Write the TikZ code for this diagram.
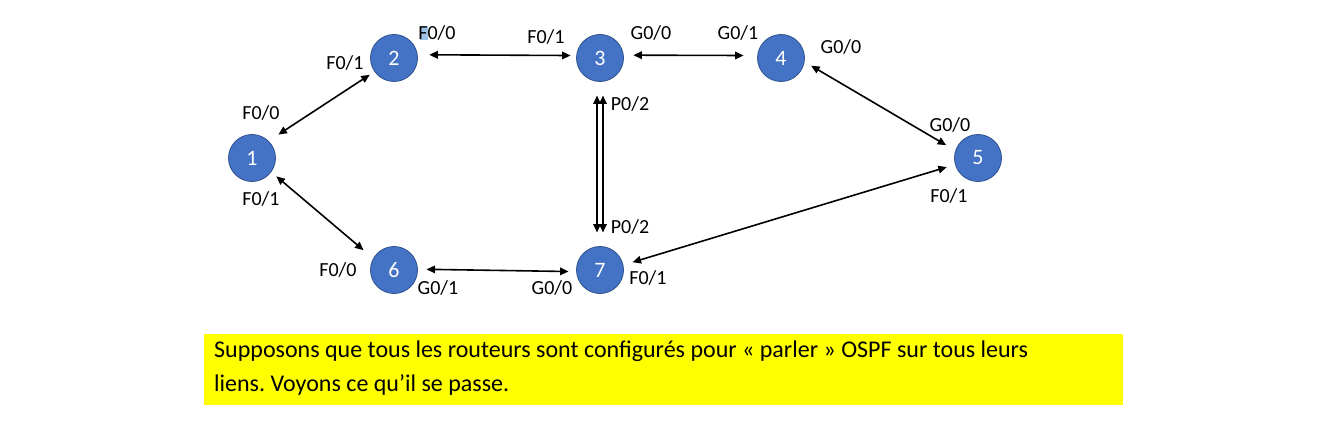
\documentclass[tikz,border=0pt]{standalone}
\usepackage{fontspec}
\setmainfont{Carlito}
\usetikzlibrary{arrows.meta}
\definecolor{nodeblue}{HTML}{4472C4}
\definecolor{nodeedge}{HTML}{2F528F}
\definecolor{hl}{HTML}{9DC3E6}
\definecolor{noteyellow}{HTML}{FFFF00}
\frenchspacing
\begin{document}
\begin{tikzpicture}[x=1pt,y=-1pt,
  router/.style={circle,fill=nodeblue,draw=nodeedge,line width=0.8pt,minimum size=47pt,inner sep=0pt,outer sep=0pt,text=white,font=\fontsize{22}{26}\selectfont},
  lbl/.style={font=\fontsize{20}{24}\selectfont,inner sep=0pt},
  link/.style={line width=1.6pt,{Triangle[length=8.5pt,width=7.5pt]}-{Triangle[length=8.5pt,width=7.5pt]}}]
\useasboundingbox (0,0) rectangle (1318,433);
% routers
\node[router] (n1) at (252,158) {1};
\node[router] (n2) at (394,58) {2};
\node[router] (n3) at (600,58) {3};
\node[router] (n4) at (781,58) {4};
\node[router] (n5) at (978,158) {5};
\node[router] (n6) at (394,270) {6};
\node[router] (n7) at (600,270) {7};
% links
\draw[link,shorten <=12pt,shorten >=6pt] (n1.46) -- (n2.215);
\draw[link,shorten <=12pt,shorten >=6pt] (n2.8) -- (n3.174);
\draw[link,shorten <=10pt,shorten >=14pt] (n3.7) -- (n4.174);
\draw[link,shorten <=8pt,shorten >=11pt] (n4.-9) -- (n5.162);
\draw[link,shorten <=9pt,shorten >=10pt] (n5.196) -- (n7.12);
\draw[link,shorten <=7pt,shorten >=13pt] (n1.-36) -- (n6.151);
\draw[link,shorten <=9pt,shorten >=8pt] (n6.2) -- (n7.184);
\draw[link,shorten <=14pt,shorten >=14pt] ([xshift=-3pt]n3.south) -- ([xshift=-3pt]n7.north);
\draw[link,shorten <=14pt,shorten >=14pt] ([xshift=3pt]n3.south) -- ([xshift=3pt]n7.north);
% highlight artifact
\fill[hl] (420,26) rectangle (428,40);
% labels
\node[lbl] (l20) at (437,33) {F0/0};
\node[lbl] (l31) at (546,37) {F0/1};
\node[lbl] (l21) at (345,63) {F0/1};
\node[lbl] (l10) at (261,113) {F0/0};
\node[lbl] (l30) at (651,33) {G0/0};
\node[lbl] (l41) at (738,33) {G0/1};
\node[lbl] (l40) at (841,47) {G0/0};
\node[lbl] (l50) at (950,125) {G0/0};
\node[lbl] (l51) at (949,196) {F0/1};
\node[lbl] (l3p) at (630,104) {P0/2};
\node[lbl] (l7p) at (630,227) {P0/2};
\node[lbl] (l11) at (261,199) {F0/1};
\node[lbl] (l60) at (338,270) {F0/0};
\node[lbl] (l61) at (438,288) {G0/1};
\node[lbl] (l70) at (552,288) {G0/0};
\node[lbl] (l71) at (648,278) {F0/1};
% note
\fill[noteyellow] (204,334) rectangle (1123,405);
\node[anchor=north west,align=left,inner sep=0pt,font=\fontsize{24}{30}\selectfont] (note) at (214,341)
 {Supposons que tous les routeurs sont configurés pour « parler » OSPF sur tous leurs\\[4pt]liens. Voyons ce qu’il se passe.};
\end{tikzpicture}
\end{document}
